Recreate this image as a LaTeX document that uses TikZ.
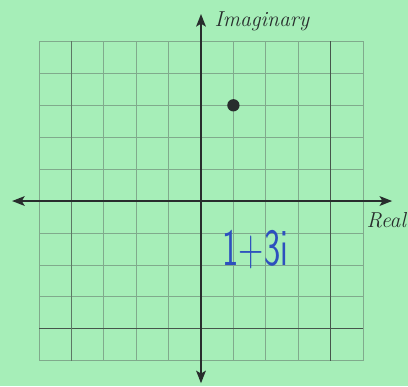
\documentclass[tikz,border=0pt]{standalone}
\usepackage{tikz}
\usetikzlibrary{arrows.meta}
\definecolor{paper}{RGB}{166,238,184}
\definecolor{gridgray}{RGB}{128,170,140}
\definecolor{griddark}{RGB}{70,85,75}
\definecolor{axisink}{RGB}{40,45,45}
\definecolor{penblue}{RGB}{45,80,190}
\tikzset{
  gridrule/.style={gridgray,line width=0.6pt},
  axisline/.style={axisink,line width=1.6pt,{Stealth[length=11pt,width=8.5pt,inset=2.5pt]}-{Stealth[length=11pt,width=8.5pt,inset=2.5pt]}},
  axislabel/.style={font=\fontsize{19}{21}\selectfont\itshape,axisink,inner sep=1pt},
}
\begin{document}
\begin{tikzpicture}[x=1cm,y=0.985cm]
% paper
\fill[paper] (-6.204,-5.797) rectangle (6.389,6.299);
\useasboundingbox (-6.204,-5.797) rectangle (6.389,6.299);
% grid
\foreach \k in {-5,...,5}{
  \draw[gridrule] (\k,-5) -- (\k,5);
  \draw[gridrule] (-5,\k) -- (5,\k);
}
\draw[griddark,line width=0.7pt] (4,-5) -- (4,5);
\draw[griddark,line width=0.7pt] (-5,-4) -- (5,-4);
\draw[griddark!60!gridgray,line width=0.6pt] (-4,-5) -- (-4,5);
% axes
\coordinate (west) at (-5.83,0);
\coordinate (east) at (5.9,0);
\coordinate (north) at (0,5.86);
\coordinate (south) at (0,-5.71);
\draw[axisline] (west) -- (east);
\draw[axisline] (south) -- (north);
\node[axislabel,anchor=west] (imag) at (0.38,5.62) {Imaginary};
\node[axislabel] (real) at (5.72,-0.6) {Real};
% point 1+3i
\node[circle,fill=axisink,inner sep=0pt,minimum size=0.38cm] (pt) at (1,3) {};
\node[penblue,font=\fontsize{46}{50}\sffamily,xscale=0.66] (z) at (1.68,-1.52) {1+3i};
\end{tikzpicture}
\end{document}
